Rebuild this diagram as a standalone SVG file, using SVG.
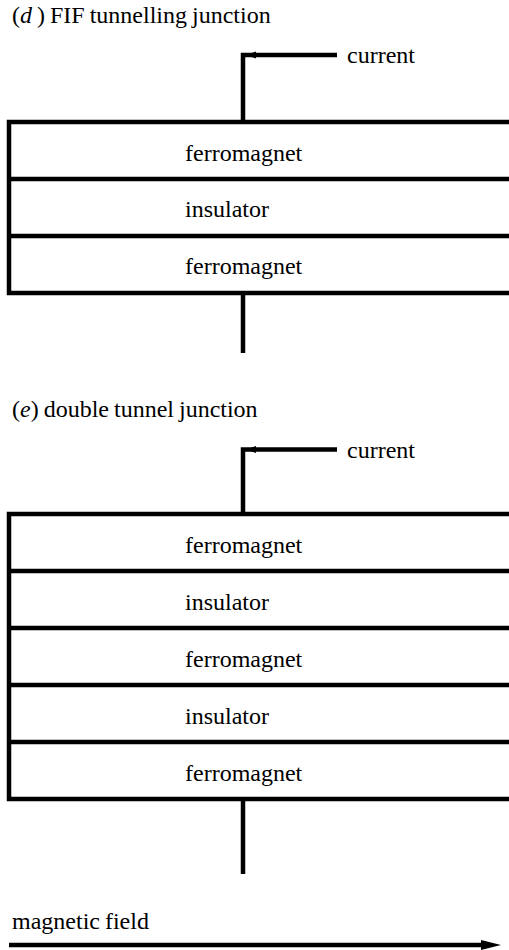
<svg xmlns="http://www.w3.org/2000/svg" width="509" height="950" viewBox="0 0 509 950" font-family="Liberation Serif, Times New Roman, DejaVu Serif, serif" font-size="24">
<defs>
<style>
text{fill:#000}
.ln{stroke:#000;stroke-width:4.5;fill:none}
.it{font-style:italic}
.ttl{word-spacing:-1px}
</style>
</defs>
<rect width="509" height="950" fill="#fff"/>

<g id="title-d"><text class="ttl" x="12" y="23">(<tspan class="it">d</tspan> ) FIF tunnelling junction</text></g>
<g id="current-d-label"><text x="347" y="63">current</text></g>
<g id="stack-d">
<path class="ln" d="M509,122 H9 V293 H509 M9,179 H509 M9,236 H509"/>
<g id="d-fm1"><text x="185" y="161">ferromagnet</text></g>
<g id="d-ins"><text x="185" y="217">insulator</text></g>
<g id="d-fm2"><text x="185" y="274">ferromagnet</text></g>
</g>

<g id="title-e"><text class="ttl" x="12" y="417">(<tspan class="it">e</tspan>) double tunnel junction</text></g>
<g id="current-e-label"><text x="347" y="458">current</text></g>
<g id="stack-e">
<path class="ln" d="M509,514 H9 V799 H509 M9,571 H509 M9,628 H509 M9,685 H509 M9,742 H509"/>
<g id="e-fm1"><text x="185" y="553">ferromagnet</text></g>
<g id="e-ins1"><text x="185" y="610">insulator</text></g>
<g id="e-fm2"><text x="185" y="667">ferromagnet</text></g>
<g id="e-ins2"><text x="185" y="724">insulator</text></g>
<g id="e-fm3"><text x="185" y="781">ferromagnet</text></g>
</g>

<g id="field-label"><text class="ttl" x="12" y="929">magnetic field</text></g>

<g id="connectors">
<path class="ln" d="M337,55 H243 V122"/>
<path d="M246,55 L256,51.5 L256,58.5 z" fill="#000"/>
<path class="ln" d="M243,293 V353"/>
<path class="ln" d="M337,449.5 H243 V514"/>
<path d="M246,449.5 L256,446 L256,453 z" fill="#000"/>
<path class="ln" d="M243,799 V874"/>
<path class="ln" d="M9,945 H483"/>
<path d="M481,940 L501,945 L481,950 z" fill="#000"/>
</g>
</svg>
